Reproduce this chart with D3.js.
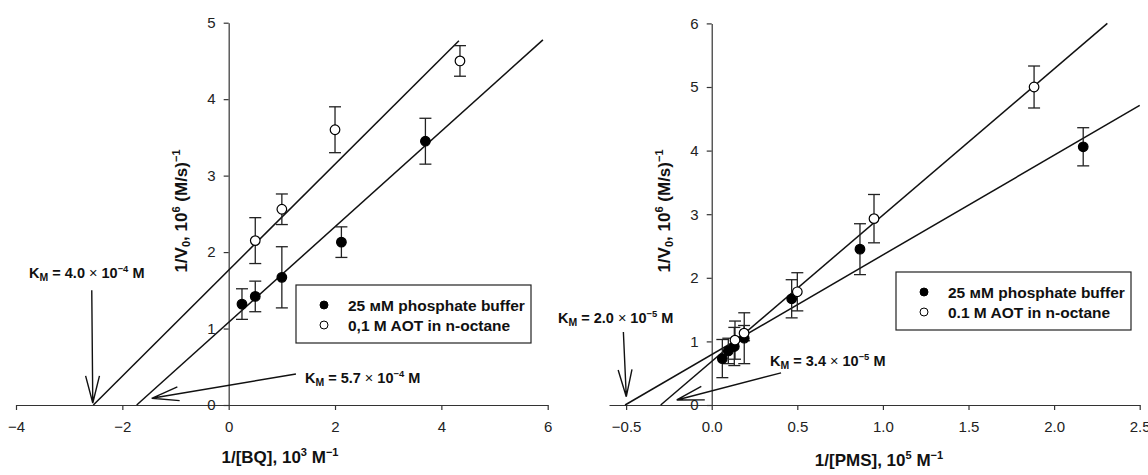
<!DOCTYPE html>
<html>
<head>
<meta charset="utf-8">
<script src="https://cdn.jsdelivr.net/npm/d3@7"></script>
<style>
  body { margin: 0; background: #fff; }
  svg { font-family: 'Liberation Sans', Arial, sans-serif; }
  text { white-space: pre; }
</style>
</head>
<body>
<div id="chart"></div>
<script>
/* Global variables */
const width = 1148;
const height = 475;

// Left panel: 1/[BQ] (10^3 M^-1) vs 1/V0 (10^6 (M/s)^-1)
const bqBufferX = [0.25, 0.5, 1.0, 2.12, 3.7];
const bqBufferY = [1.32, 1.42, 1.67, 2.13, 3.45];
const bqBufferErr = [0.2, 0.2, 0.4, 0.2, 0.3];
const bqAotX = [0.5, 1.0, 2.0, 4.35];
const bqAotY = [2.15, 2.56, 3.6, 4.5];
const bqAotErr = [0.3, 0.2, 0.3, 0.2];
// fit lines: [x-intercept, slope, last x]
const bqFitBuffer = [-1.73, 0.625, 5.91];
const bqFitAot = [-2.545, 0.693, 4.33];
const bqTicksX = [-4, -2, 0, 2, 4, 6];
const bqTicksY = [0, 1, 2, 3, 4, 5];
const bqLegend = ['25 мM phosphate buffer', '0,1 M AOT in n-octane'];
const bqKm = [['4.0', '−4'], ['5.7', '−4']];

// Right panel: 1/[PMS] (10^5 M^-1)
const pmsBufferX = [0.062, 0.097, 0.132, 0.19, 0.467, 0.866, 2.17];
const pmsBufferY = [0.73, 0.85, 0.92, 1.05, 1.67, 2.45, 4.06];
const pmsBufferErr = [0.3, 0.2, 0.3, 0.4, 0.3, 0.4, 0.3];
const pmsAotX = [0.136, 0.189, 0.5, 0.948, 1.883];
const pmsAotY = [1.02, 1.13, 1.78, 2.93, 5.0];
const pmsAotErr = [0.3, 0.12, 0.3, 0.38, 0.33];
const pmsFitBuffer = [-0.506, 1.567, 2.5];
const pmsFitAot = [-0.298, 2.3, 2.311];
const pmsTicksX = [-0.5, 0, 0.5, 1, 1.5, 2, 2.5];
const pmsTicksY = [0, 1, 2, 3, 4, 5, 6];
const pmsLegend = ['25 мM phosphate buffer', '0.1 M AOT in n-octane'];
const pmsKm = [['2.0', '−5'], ['3.4', '−5']];

const svg = d3
  .select('#chart')
  .append('svg')
  .attr('width', width)
  .attr('height', height);

// text with sub/superscripts
function rich(text, parts, size, subScale = 0.65) {
  let shift = 0;
  parts.forEach(([t, kind]) => {
    const target = kind === 'sup' ? -0.4 * size : kind === 'sub' ? 0.18 * size : 0;
    text
      .append('tspan')
      .attr('dy', target - shift)
      .attr('font-size', kind === 'sub' ? size * subScale : kind ? size * 0.65 : size)
      .attr('font-weight', kind === 'times' ? 'normal' : null)
      .text(t);
    shift = target;
  });
}

function arrow(g, x1, y1, x2, y2) {
  const ang = Math.atan2(y2 - y1, x2 - x1);
  const len = 28,
    spread = 0.25;
  const p = d3.path();
  p.moveTo(x1, y1);
  p.lineTo(x2, y2);
  p.moveTo(x2 - len * Math.cos(ang - spread), y2 - len * Math.sin(ang - spread));
  p.lineTo(x2, y2);
  p.lineTo(x2 - len * Math.cos(ang + spread), y2 - len * Math.sin(ang + spread));
  g.append('path')
    .attr('d', p.toString())
    .attr('fill', 'none')
    .attr('stroke', '#111')
    .attr('stroke-width', 1.4);
}

function kmLabel(g, px, py, anchor, km) {
  const t = g
    .append('text')
    .attr('x', px)
    .attr('y', py)
    .attr('text-anchor', anchor)
    .attr('font-weight', 'bold')
    .attr('fill', '#111');
  rich(
    t,
    [['K'], ['M', 'sub'], [' = ' + km[0] + ' '], ['×', null], [' 10'], [km[1], 'sup'], [' M']],
    14.5,
    0.72
  );
  t.selectAll('tspan')
    .filter((d, i) => i === 3)
    .attr('font-weight', 'normal');
}

function drawPanel(c) {
  const x = d3.scaleLinear().domain(c.xDomain).range(c.xRange);
  const y = d3.scaleLinear().domain(c.yDomain).range([405, c.yTop]);
  const g = svg.append('g');

  // Axes
  const xAxis = g
    .append('g')
    .attr('transform', `translate(0,${y(0)})`)
    .call(
      d3
        .axisBottom(x)
        .tickValues(c.ticksX)
        .tickFormat(c.fmtX)
        .tickSize(5)
        .tickSizeOuter(0)
        .tickPadding(11)
    );
  const yAxis = g
    .append('g')
    .attr('transform', `translate(${x(0)},0)`)
    .call(
      d3
        .axisLeft(y)
        .tickValues(c.ticksY)
        .tickFormat(d3.format('d'))
        .tickSize(5)
        .tickSizeOuter(0)
        .tickPadding(8)
    );
  [xAxis, yAxis].forEach((a) => {
    a.attr('font-size', 15).attr('font-family', null);
    a.selectAll('path, line').attr('stroke', '#333').attr('stroke-width', 1.2);
    a.selectAll('text').attr('fill', '#222');
  });

  // Fit lines
  const line = d3
    .line()
    .x((d) => x(d[0]))
    .y((d) => y(d[1]));
  [c.fitBuffer, c.fitAot].forEach((f) => {
    g.append('path')
      .attr('d', line([[f[0], 0], [f[2], f[1] * (f[2] - f[0])]]))
      .attr('fill', 'none')
      .attr('stroke', '#111')
      .attr('stroke-width', 1.5);
  });

  // Error bars and points
  const series = [
    { xs: c.bufX, ys: c.bufY, es: c.bufErr, fill: '#000' },
    { xs: c.aotX, ys: c.aotY, es: c.aotErr, fill: '#fff' },
  ];
  series.forEach((s) => {
    const pts = s.xs.map((v, i) => ({ x: v, y: s.ys[i], e: s.es[i] }));
    const eb = g.append('g').attr('stroke', '#222').attr('stroke-width', 1.3);
    pts.forEach((d) => {
      const px = x(d.x);
      eb.append('line').attr('x1', px).attr('x2', px).attr('y1', y(d.y - d.e)).attr('y2', y(d.y + d.e));
      [d.y - d.e, d.y + d.e].forEach((v) =>
        eb.append('line').attr('x1', px - 6).attr('x2', px + 6).attr('y1', y(v)).attr('y2', y(v))
      );
    });
  });
  series.forEach((s) => {
    g.append('g')
      .selectAll('circle')
      .data(s.xs.map((v, i) => [v, s.ys[i]]))
      .join('circle')
      .attr('cx', (d) => x(d[0]))
      .attr('cy', (d) => y(d[1]))
      .attr('r', 4.8)
      .attr('fill', s.fill)
      .attr('stroke', '#000')
      .attr('stroke-width', 1.2);
  });

  // K_M annotations
  c.notes.forEach((n, i) => {
    arrow(g, x(n.from[0]), y(n.from[1]), x(n.tip[0]), y(n.tip[1]));
    kmLabel(g, x(n.text[0]), y(n.text[1]), n.anchor, c.km[i]);
  });

  // Legend
  const lg = g.append('g').attr('transform', `translate(${c.legend[0]},${c.legend[1]})`);
  lg.append('rect')
    .attr('width', 235)
    .attr('height', 58)
    .attr('fill', '#fff')
    .attr('stroke', '#222')
    .attr('stroke-width', 1.2);
  c.legendText.forEach((t, i) => {
    lg.append('circle')
      .attr('cx', 28)
      .attr('cy', 20 + i * 20)
      .attr('r', 4)
      .attr('fill', i === 0 ? '#000' : '#fff')
      .attr('stroke', '#000')
      .attr('stroke-width', 1);
    lg.append('text')
      .attr('x', 52)
      .attr('y', 25.5 + i * 20)
      .attr('font-size', 15.5)
      .attr('font-weight', 'bold')
      .attr('fill', '#111')
      .text(t);
  });

  // Axis titles
  const xt = g
    .append('text')
    .attr('x', c.xTitle[0])
    .attr('y', c.xTitle[1])
    .attr('text-anchor', 'middle')
    .attr('font-weight', 'bold')
    .attr('fill', '#111');
  rich(xt, [[c.xName + ', 10'], [c.xExp, 'sup'], [' M'], ['−1', 'sup']], 17);

  const yt = g
    .append('text')
    .attr('transform', `translate(${x(0) - 42},211) rotate(-90)`)
    .attr('text-anchor', 'middle')
    .attr('font-weight', 'bold')
    .attr('fill', '#111');
  rich(yt, [['1/V'], ['0', 'sub'], [', 10'], ['6', 'sup'], [' (M/s)'], ['−1', 'sup']], 17);
}

drawPanel({
  xDomain: [-4, 6],
  xRange: [16, 547.7],
  yDomain: [0, 5],
  yTop: 22.7,
  ticksX: bqTicksX,
  ticksY: bqTicksY,
  fmtX: d3.format('d'),
  bufX: bqBufferX,
  bufY: bqBufferY,
  bufErr: bqBufferErr,
  aotX: bqAotX,
  aotY: bqAotY,
  aotErr: bqAotErr,
  fitBuffer: bqFitBuffer,
  fitAot: bqFitAot,
  km: bqKm,
  notes: [
    { from: [-2.575, 1.5], tip: [-2.556, 0.026], text: [-3.754, 1.66], anchor: 'start' },
    { from: [1.265, 0.405], tip: [-1.447, 0.088], text: [1.434, 0.288], anchor: 'start' },
  ],
  legend: [296, 285],
  legendText: bqLegend,
  xTitle: [280, 463],
  xName: '1/[BQ]',
  xExp: '3',
});

drawPanel({
  xDomain: [-0.6, 2.5],
  xRange: [609, 1139.7],
  yDomain: [0, 6],
  yTop: 23.4,
  ticksX: pmsTicksX,
  ticksY: pmsTicksY,
  fmtX: d3.format('.1f'),
  bufX: pmsBufferX,
  bufY: pmsBufferY,
  bufErr: pmsBufferErr,
  aotX: pmsAotX,
  aotY: pmsAotY,
  aotErr: pmsAotErr,
  fitBuffer: pmsFitBuffer,
  fitAot: pmsFitAot,
  km: pmsKm,
  notes: [
    { from: [-0.516, 1.148], tip: [-0.499, 0.13], text: [-0.224, 1.289], anchor: 'end' },
    { from: [0.405, 0.506], tip: [-0.204, 0.079], text: [0.341, 0.613], anchor: 'start' },
  ],
  legend: [896, 272],
  legendText: pmsLegend,
  xTitle: [879, 466],
  xName: '1/[PMS]',
  xExp: '5',
});
</script>
</body>
</html>
